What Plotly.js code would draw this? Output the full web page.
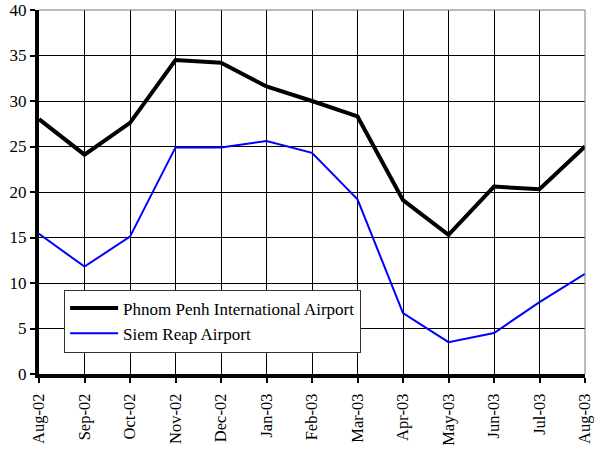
<!DOCTYPE html>
<html>
<head>
<meta charset="utf-8">
<script src="https://cdn.plot.ly/plotly-3.0.1.min.js"></script>
<style>
  body { margin: 0; background: #fff; }
  #chart { width: 596px; height: 450px; }
</style>
</head>
<body>
<div id="chart"></div>
<script>
    var months = ['Aug-02', 'Sep-02', 'Oct-02', 'Nov-02', 'Dec-02', 'Jan-03', 'Feb-03',
      'Mar-03', 'Apr-03', 'May-03', 'Jun-03', 'Jul-03', 'Aug-03'];
    var phnomPenh = [28.0, 24.1, 27.6, 34.5, 34.2, 31.6, 30.0, 28.3, 19.1, 15.3, 20.6, 20.3, 25.0];
    var siemReap = [15.4, 11.8, 15.1, 24.9, 24.9, 25.6, 24.3, 19.2, 6.7, 3.5, 4.5, 7.9, 11.0];
    var yTicks = [0, 5, 10, 15, 20, 25, 30, 35, 40];

    var serif = '"Times New Roman", "Liberation Serif", "DejaVu Serif", serif';

    var trace1 = {
      x: months,
      y: phnomPenh,
      name: 'Phnom Penh International Airport',
      type: 'scatter',
      mode: 'lines',
      line: { color: '#000000', width: 4 },
      cliponaxis: false
    };

    var trace2 = {
      x: months,
      y: siemReap,
      name: 'Siem Reap Airport',
      type: 'scatter',
      mode: 'lines',
      line: { color: '#0000ff', width: 2 },
      cliponaxis: false
    };

    var data = [trace1, trace2];
    var layout = {
      width: 596,
      height: 450,
      margin: { l: 39, r: 11, t: 10, b: 76 },
      paper_bgcolor: '#ffffff',
      plot_bgcolor: '#ffffff',
      font: { family: serif, size: 16, color: '#000' },
      showlegend: true,
      legend: {
        x: 0.046, y: 0.232, xanchor: 'left', yanchor: 'top',
        bgcolor: '#ffffff', bordercolor: '#333', borderwidth: 1,
        font: { size: 17, family: serif, color: '#000' },
        itemwidth: 48,
        tracegroupgap: 0
      },
      xaxis: {
        type: 'category',
        range: [0, 12],
        tickangle: -90,
        showgrid: true, gridcolor: '#000', gridwidth: 1,
        showline: true, linecolor: '#000', linewidth: 4,
        ticks: 'outside', ticklen: 5, tickwidth: 2, tickcolor: '#000',
        ticklabelstandoff: 4,
        zeroline: false,
        tickfont: { size: 16.5, family: serif, color: '#000' }
      },
      yaxis: {
        range: [0, 40],
        tickvals: yTicks,
        showgrid: true, gridcolor: '#000', gridwidth: 1,
        showline: true, linecolor: '#000', linewidth: 4,
        ticks: 'outside', ticklen: 5, tickwidth: 2, tickcolor: '#000',
        zeroline: false,
        tickfont: { size: 17, family: serif, color: '#000' }
      },
      shapes: [
        { type: 'line', xref: 'paper', yref: 'paper', x0: 0, x1: 1, y0: 1, y1: 1,
          line: { color: '#777', width: 1 } },
        { type: 'line', xref: 'paper', yref: 'paper', x0: 1, x1: 1, y0: 0, y1: 1,
          line: { color: '#777', width: 1 } }
      ]
    };

Plotly.newPlot('chart', data, layout, {
  displayModeBar: false
});
</script>
</body>
</html>
